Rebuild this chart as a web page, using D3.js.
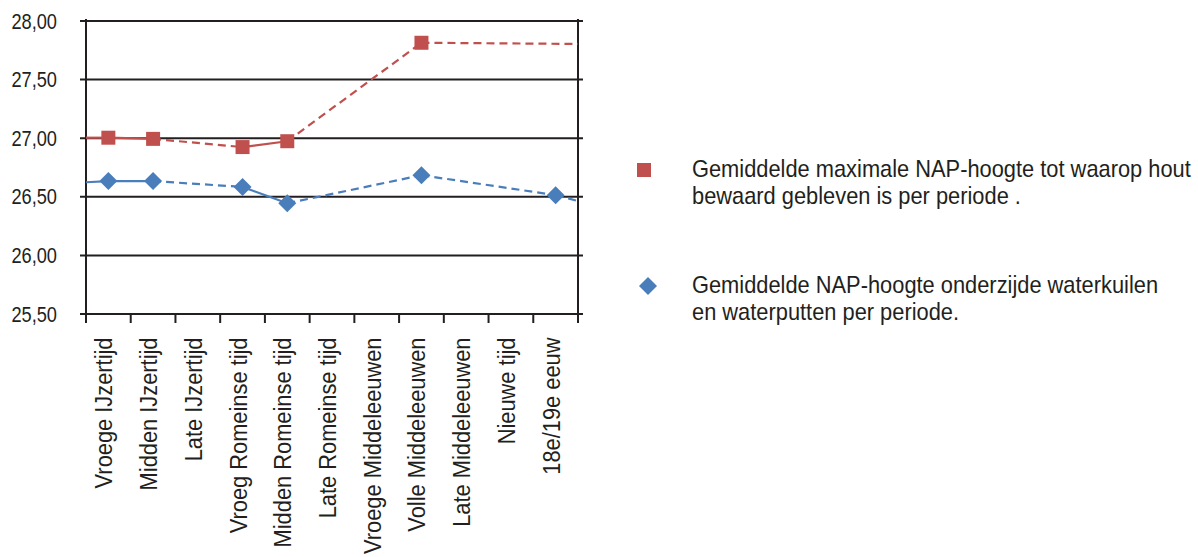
<!DOCTYPE html>
<html>
<head>
<meta charset="utf-8">
<script src="https://cdn.jsdelivr.net/npm/d3@7"></script>
<style>
  body { margin: 0; background: #fff; }
  svg text { font-family: "Liberation Sans", Arial, sans-serif; fill: #231f20; }
</style>
</head>
<body>
<svg id="chart"></svg>
<script>
// periods on the x axis
const periods = [
  "Vroege IJzertijd", "Midden IJzertijd", "Late IJzertijd",
  "Vroeg Romeinse tijd", "Midden Romeinse tijd", "Late Romeinse tijd",
  "Vroege Middeleeuwen", "Volle Middeleeuwen", "Late Middeleeuwen",
  "Nieuwe tijd", "18e/19e eeuw"
];

// average max NAP height where wood is preserved (null = no value)
const maxWood = [27.00, 26.99, null, 26.92, 26.97, null, null, 27.81, null, null, null];
// value where the line meets the left / right frame
const maxWoodEdges = [27.00, 27.80];

// average NAP height of the bottom of water pits and wells
const wellBottom = [26.63, 26.63, null, 26.58, 26.44, null, null, 26.68, null, null, 26.51];
const wellBottomEdges = [26.62, 26.46];

const yTicks = [25.5, 26.0, 26.5, 27.0, 27.5, 28.0];

const legendLabels = [
  ["Gemiddelde maximale NAP-hoogte tot waarop hout", "bewaard gebleven is per periode ."],
  ["Gemiddelde NAP-hoogte onderzijde waterkuilen", "en waterputten per periode."]
];

const width = 1198, height = 557;
const margin = { top: 20.5, left: 86, right: 620, bottom: 243.5 };
const plotW = width - margin.left - margin.right;
const plotH = height - margin.top - margin.bottom;

// narrow look: squeeze text horizontally
const narrow = 0.91;

const svg = d3.select("#chart").attr("width", width).attr("height", height);
const g = svg.append("g").attr("transform", `translate(${margin.left},${margin.top})`);

const x = d3.scaleBand().domain(periods).range([0, plotW]).padding(0);
const y = d3.scaleLinear().domain([25.5, 28]).range([plotH, 0]);

const nl = d3.formatLocale({ decimal: ",", thousands: ".", grouping: [3], currency: ["€", ""] });
const fmt = nl.format(".2f");

// gridlines
const yAxis = d3.axisLeft(y).tickValues(yTicks).tickFormat("")
  .tickSize(-(plotW + 11));
const yAxisG = g.append("g").attr("transform", "translate(-6,0)").call(yAxis);
yAxisG.select(".domain").remove();
yAxisG.selectAll("line").attr("stroke", "#231f20").attr("stroke-width", 2);

// y labels
g.selectAll(".ylabel").data(yTicks).join("text")
  .attr("class", "ylabel")
  .attr("transform", d => `translate(-29,${y(d) + 8}) scale(0.81,1)`)
  .attr("text-anchor", "end")
  .attr("font-size", 22.5)
  .text(fmt);

// vertical frame lines
g.append("line").attr("x1", 0).attr("x2", 0).attr("y1", -1.5).attr("y2", plotH + 9.5)
  .attr("stroke", "#231f20").attr("stroke-width", 2);
g.append("line").attr("x1", plotW).attr("x2", plotW).attr("y1", -1.5).attr("y2", plotH + 9.5)
  .attr("stroke", "#231f20").attr("stroke-width", 2);

// x ticks at band boundaries
g.selectAll(".xtick").data(periods).join("line")
  .attr("class", "xtick")
  .attr("x1", d => x(d)).attr("x2", d => x(d))
  .attr("y1", plotH).attr("y2", plotH + 9.5)
  .attr("stroke", "#231f20").attr("stroke-width", 2);

// x labels, rotated
g.selectAll(".xlabel").data(periods).join("text")
  .attr("class", "xlabel")
  .attr("transform", d => `translate(${x(d) + x.bandwidth() / 2 + 4},${plotH + 24}) rotate(-90) scale(${narrow},1)`)
  .attr("text-anchor", "end")
  .attr("font-size", 24)
  .text(d => d);

const series = [
  { values: maxWood, edges: maxWoodEdges, edgeDash: [false, true], color: "#c0504d", marker: "square" },
  { values: wellBottom, edges: wellBottomEdges, edgeDash: [false, true], color: "#4a7ebb", marker: "diamond" }
];

const cx = i => x(periods[i]) + x.bandwidth() / 2;

series.forEach(s => {
  const pts = s.values.map((v, i) => ({ i, v })).filter(d => d.v != null);
  const segs = [];
  segs.push({ x1: 0, y1: s.edges[0], x2: cx(pts[0].i), y2: pts[0].v, dashed: s.edgeDash[0] });
  for (let k = 1; k < pts.length; k++) {
    segs.push({ x1: cx(pts[k - 1].i), y1: pts[k - 1].v, x2: cx(pts[k].i), y2: pts[k].v,
      dashed: pts[k].i - pts[k - 1].i > 1 });
  }
  const last = pts[pts.length - 1];
  segs.push({ x1: cx(last.i), y1: last.v, x2: plotW, y2: s.edges[1], dashed: s.edgeDash[1] });

  g.append("g").selectAll("line").data(segs).join("line")
    .attr("x1", d => d.x1).attr("y1", d => y(d.y1))
    .attr("x2", d => d.x2).attr("y2", d => y(d.y2))
    .attr("stroke", s.color).attr("stroke-width", 2.2)
    .attr("stroke-dasharray", d => d.dashed ? "8,5" : null);

  const mg = g.append("g").selectAll("path").data(pts).join("path")
    .attr("fill", s.color)
    .attr("transform", d => `translate(${cx(d.i)},${y(d.v)})`);
  if (s.marker === "square") mg.attr("d", "M-7,-7H7V7H-7Z");
  else mg.attr("d", "M0,-9L9,0L0,9L-9,0Z");
});

// legend
const legend = svg.append("g");
const legendY = [170, 286];
series.forEach((s, k) => {
  const lg = legend.append("g").attr("transform", `translate(0,${legendY[k]})`);
  if (s.marker === "square") lg.append("path").attr("d", "M637,-7H651V7H637Z").attr("fill", s.color);
  else lg.append("path").attr("d", "M648,-9L657,0L648,9L639,0Z").attr("fill", s.color);
  lg.selectAll("text").data(legendLabels[k]).join("text")
    .attr("transform", (d, j) => `translate(692,${7 + j * 27}) scale(${narrow},1)`)
    .attr("font-size", 24)
    .text(d => d);
});
</script>
</body>
</html>
